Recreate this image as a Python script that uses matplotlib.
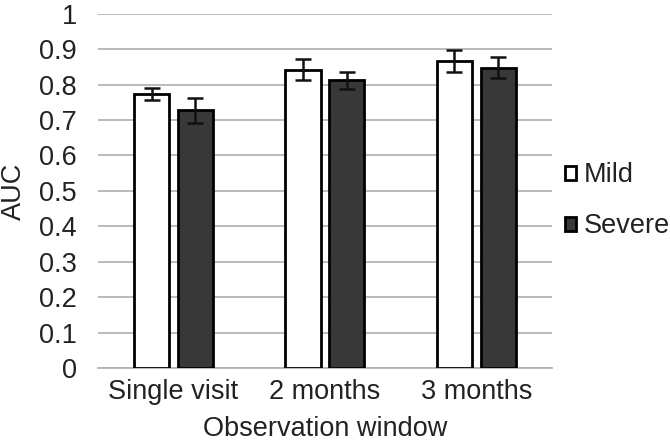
import numpy as np
import matplotlib
matplotlib.use("Agg")
import matplotlib.pyplot as plt

plt.rcParams["font.family"] = ["Liberation Sans", "DejaVu Sans"]

windows = ["Single visit", "2 months", "3 months"]
mild = [0.773, 0.842, 0.866]
mild_err = [0.017, 0.029, 0.031]
severe = [0.727, 0.812, 0.848]
severe_err = [0.036, 0.023, 0.029]

FS = 19.5
fig = plt.figure(figsize=(6.7, 4.45), dpi=100)
ax = fig.add_axes([0.146, 0.173, 0.678, 0.796])

x = np.arange(len(windows))
w = 0.232
off = 0.145
ekw = dict(ecolor="#111111", elinewidth=1.8, capsize=5.5, capthick=1.8)
ax.bar(x - off, mild, w, yerr=mild_err, color="white", edgecolor="black",
       linewidth=2.0, error_kw=ekw, label="Mild", zorder=3)
ax.bar(x + off, severe, w, yerr=severe_err, color="#383838", edgecolor="black",
       linewidth=2.0, error_kw=ekw, label="Severe", zorder=3)

ax.set_xlim(-0.5, 2.5)
ax.set_ylim(0, 1)
ax.set_yticks(np.arange(0, 1.01, 0.1))
ax.set_yticklabels(["0"] + [f"{v:.1f}" for v in np.arange(0.1, 1.0, 0.1)] + ["1"])
ax.set_xticks(x)
ax.set_xticklabels(windows)
ax.yaxis.grid(True, color="#b4b4b4", lw=1.3, zorder=0)
for s in ["top", "right", "left"]:
    ax.spines[s].set_visible(False)
ax.spines["bottom"].set_color("#b4b4b4")
ax.spines["bottom"].set_linewidth(1.3)
ax.tick_params(axis="both", length=0, labelsize=FS, colors="#222222")
ax.tick_params(axis="y", pad=15)
ax.tick_params(axis="x", pad=8)
ax.set_ylabel("AUC", fontsize=FS, color="#222222", labelpad=9)
ax.set_xlabel("Observation window", fontsize=FS, color="#222222", labelpad=8)

leg = ax.legend(loc="center left", bbox_to_anchor=(1.028, 0.472), frameon=False,
                fontsize=FS, handlelength=0.42, handleheight=0.42,
                handletextpad=0.27, labelspacing=0.93, borderaxespad=0,
                borderpad=0)
for t in leg.get_texts():
    t.set_color("#222222")

fig.savefig("out.png", dpi=100)
